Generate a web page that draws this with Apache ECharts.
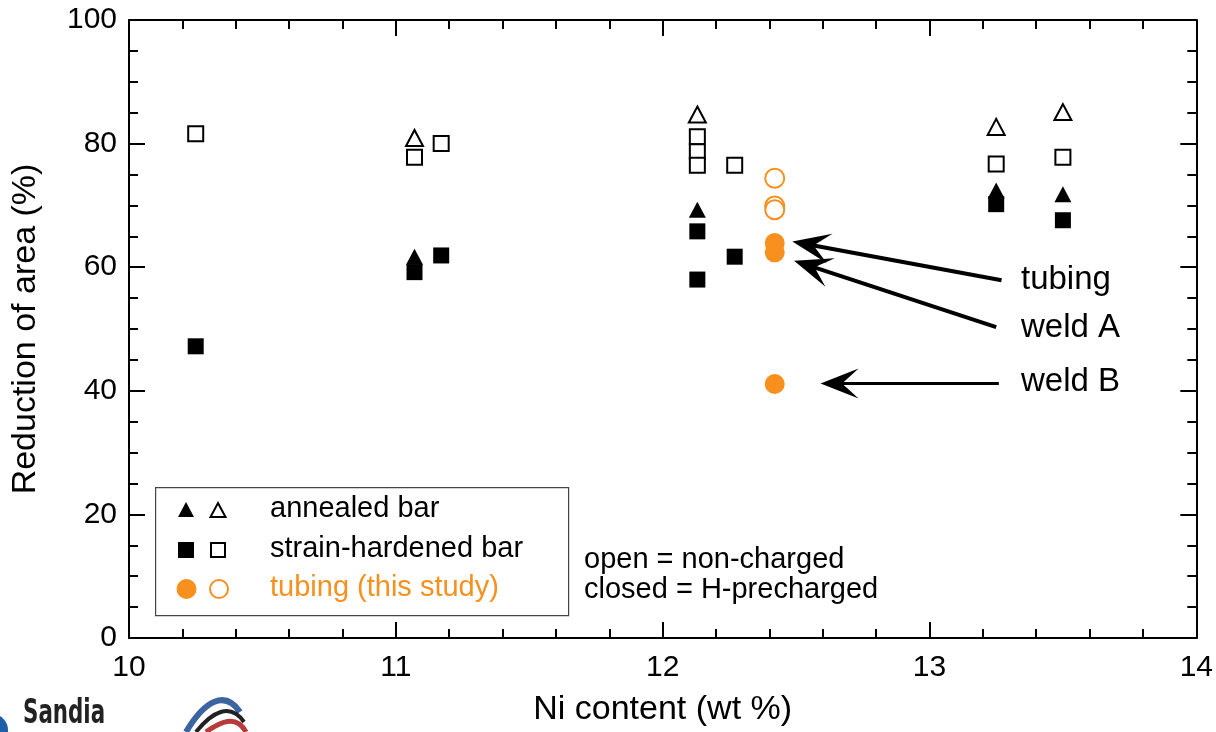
<!DOCTYPE html>
<html>
<head>
<meta charset="utf-8">
<script src="https://cdn.jsdelivr.net/npm/echarts@6/dist/echarts.min.js"></script>
<style>
  html, body { margin: 0; padding: 0; background: #fff; }
  #chart { width: 1216px; height: 732px; }
</style>
</head>
<body>
<div id="chart"></div>
<script>
// Ni content (wt %) vs reduction of area (%)
const annealedCharged = [[11.07, 61.7], [12.13, 69.3], [13.25, 72.4], [13.5, 71.8]]
const annealedOpen = [[11.07, 80.9], [12.13, 84.7], [13.25, 82.7], [13.5, 85.1]]
const hardenedCharged = [
  [10.25, 47.2], [11.07, 59.2], [11.17, 61.9], [12.13, 65.8],
  [12.13, 58.0], [12.27, 61.7], [13.25, 70.2], [13.5, 67.6]
]
const hardenedOpen = [
  [10.25, 81.6], [11.07, 77.8], [11.17, 80.0], [12.13, 81.1], [12.13, 78.7],
  [12.13, 76.5], [12.27, 76.5], [13.25, 76.7], [13.5, 77.8]
]
const tubingCharged = [[12.42, 63.9], [12.42, 62.4], [12.42, 41.1]]
const tubingOpen = [[12.42, 74.4], [12.42, 69.9], [12.42, 69.3]]

// arrow annotations: [label, tail, head centre] in data units
// (markLine centres the head symbol on the end point, so it sits a bit back from the tip)
const arrowNotes = [
  ['tubing', [13.27, 57.9], [12.556, 63.6]],
  ['weld A', [13.25, 50.3], [12.560, 60.1]],
  ['weld B', [13.26, 41.2], [12.663, 41.2]]
]
const legendLabels = ['annealed bar', 'strain-hardened bar', 'tubing (this study)']
const noteLines = ['open = non-charged', 'closed = H-precharged']

const FONT = "'Liberation Sans', Arial, Helvetica, sans-serif"
const ORANGE = '#f7901e'

const chart = echarts.init(document.getElementById('chart'), null, { renderer: 'canvas' })

const axisBase = {
  axisLine: { show: true, onZero: false, lineStyle: { color: '#000', width: 2 } },
  axisTick: { show: true, inside: true, length: 16, lineStyle: { color: '#000', width: 2 } },
  minorTick: { show: true, length: 9, lineStyle: { color: '#000', width: 2 } },
  splitLine: { show: false },
}

const openStyle = (c) => ({ color: '#fff', borderColor: c, borderWidth: 2, opacity: 1 })
const fillStyle = (c) => ({ color: c, opacity: 1 })

const arrowHead = 'path://M13,0 L26,30 L13,17 L0,30 Z'

const series = [
  { name: 'annealed open', data: annealedOpen, symbol: 'triangle', symbolSize: [17, 16], itemStyle: openStyle('#000') },
  { name: 'hardened open', data: hardenedOpen, symbol: 'rect', symbolSize: 15, itemStyle: openStyle('#000') },
  { name: 'tubing open', data: tubingOpen, symbol: 'circle', symbolSize: 19, itemStyle: openStyle(ORANGE) },
  { name: 'annealed charged', data: annealedCharged, symbol: 'triangle', symbolSize: [17, 16], itemStyle: fillStyle('#000') },
  { name: 'hardened charged', data: hardenedCharged, symbol: 'rect', symbolSize: 16, itemStyle: fillStyle('#000') },
  { name: 'tubing charged', data: tubingCharged, symbol: 'circle', symbolSize: 20, itemStyle: fillStyle(ORANGE) },
].map(s => Object.assign({ type: 'scatter', xAxisIndex: 0, yAxisIndex: 0, emphasis: { disabled: true } }, s))

// arrows as a markLine on an empty series
series.push({
  type: 'scatter',
  data: [],
  xAxisIndex: 0,
  yAxisIndex: 0,
  markLine: {
    silent: true,
    animation: false,
    symbol: ['none', arrowHead],
    symbolSize: [30, 38],
    label: { show: false },
    lineStyle: { color: '#000', type: 'solid', width: 4 },
    data: arrowNotes.map((a, i) => [
      { coord: a[1], lineStyle: { width: i === 2 ? 3 : 4 } },
      { coord: a[2] }
    ])
  }
})

const graphic = []
// legend box
graphic.push({
  type: 'rect', left: 155, top: 487, z: 10,
  shape: { width: 413, height: 128 },
  style: { fill: '#fff', stroke: '#444', lineWidth: 1.2 }
})
const rowY = [510, 550, 589]
const legendColors = ['#000', '#000', ORANGE]
// filled / open symbols in legend
graphic.push(
  { type: 'polygon', z: 11, shape: { points: [[186, 502], [194, 517], [178, 517]] }, style: { fill: '#000' } },
  { type: 'polygon', z: 11, shape: { points: [[218, 503], [225.5, 517], [210.5, 517]] }, style: { fill: '#fff', stroke: '#000', lineWidth: 2 } },
  { type: 'rect', z: 11, shape: { x: 178, y: 542, width: 16, height: 16 }, style: { fill: '#000' } },
  { type: 'rect', z: 11, shape: { x: 211, y: 543, width: 14, height: 14 }, style: { fill: '#fff', stroke: '#000', lineWidth: 2 } },
  { type: 'circle', z: 11, shape: { cx: 186.5, cy: 589, r: 10 }, style: { fill: ORANGE } },
  { type: 'circle', z: 11, shape: { cx: 219, cy: 589, r: 9 }, style: { fill: '#fff', stroke: ORANGE, lineWidth: 2 } }
)
legendLabels.forEach((t, i) => {
  graphic.push({
    type: 'text', left: 270, top: rowY[i] - 16, z: 11,
    style: { text: t, fill: legendColors[i], font: '29px ' + FONT }
  })
})
noteLines.forEach((t, i) => {
  graphic.push({
    type: 'text', left: 584, top: 545 + i * 30, z: 11,
    style: { text: t, fill: '#000', font: '29px ' + FONT }
  })
})
// arrow labels
const noteY = [282, 330, 384]
arrowNotes.forEach((a, i) => {
  graphic.push({
    type: 'text', left: 1021, top: noteY[i] - 19, z: 11,
    style: { text: a[0], fill: '#000', font: '33px ' + FONT }
  })
})
// logo fragments at bottom-left
graphic.push(
  { type: 'circle', z: 11, shape: { cx: -8, cy: 730, r: 16 }, style: { fill: '#1f5fa8' } },
  { type: 'text', left: 23, top: 698, z: 11, scaleX: 0.72, style: { text: 'Sandia', fill: '#222', font: 'bold 33px "DejaVu Sans Condensed", ' + FONT } },
  { type: 'bezierCurve', z: 11, shape: { x1: 186, y1: 732, x2: 240, y2: 712, cpx1: 205, cpy1: 700, cpx2: 225, cpy2: 690 }, style: { stroke: '#3c64a0', lineWidth: 6, fill: null } },
  { type: 'bezierCurve', z: 11, shape: { x1: 196, y1: 732, x2: 244, y2: 722, cpx1: 212, cpy1: 712, cpx2: 230, cpy2: 702 }, style: { stroke: '#222', lineWidth: 4, fill: null } },
  { type: 'bezierCurve', z: 11, shape: { x1: 206, y1: 732, x2: 246, y2: 732, cpx1: 220, cpy1: 722, cpx2: 236, cpy2: 714 }, style: { stroke: '#b83a3a', lineWidth: 5, fill: null } }
)

chart.setOption({
  animation: false,
  backgroundColor: '#fff',
  textStyle: { fontFamily: FONT },
  grid: { left: 129, right: 18, top: 20, bottom: 91, containLabel: false },
  xAxis: [
    Object.assign({}, axisBase, {
      type: 'value', position: 'bottom', min: 10, max: 14, interval: 1,
      minorTick: Object.assign({}, axisBase.minorTick, { splitNumber: 5 }),
      axisLabel: { color: '#000', fontSize: 30, margin: 15, fontFamily: FONT },
      name: 'Ni content (wt %)', nameLocation: 'middle', nameGap: 55,
      nameTextStyle: { color: '#000', fontSize: 34, fontFamily: FONT }
    }),
    Object.assign({}, axisBase, {
      type: 'value', position: 'top', min: 10, max: 14, interval: 1,
      minorTick: Object.assign({}, axisBase.minorTick, { splitNumber: 5 }),
      axisLabel: { show: false }
    })
  ],
  yAxis: [
    Object.assign({}, axisBase, {
      type: 'value', position: 'left', min: 0, max: 100, interval: 20,
      minorTick: Object.assign({}, axisBase.minorTick, { splitNumber: 4 }),
      axisLabel: { color: '#000', fontSize: 30, margin: 12, fontFamily: FONT },
      name: 'Reduction of area (%)', nameLocation: 'middle', nameGap: 86,
      nameTextStyle: { color: '#000', fontSize: 34, fontFamily: FONT }
    }),
    Object.assign({}, axisBase, {
      type: 'value', position: 'right', min: 0, max: 100, interval: 20,
      minorTick: Object.assign({}, axisBase.minorTick, { splitNumber: 4 }),
      axisLabel: { show: false }
    })
  ],
  series: series,
  graphic: graphic
})
</script>
</body>
</html>
